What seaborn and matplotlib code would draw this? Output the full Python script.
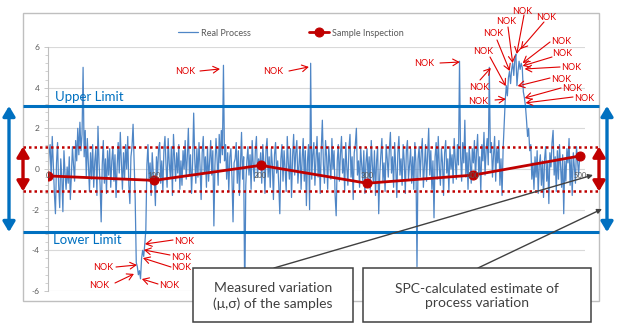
import numpy as np
import pandas as pd
import seaborn as sns
import matplotlib
matplotlib.use("Agg")
import matplotlib.pyplot as plt
from matplotlib.patches import FancyArrowPatch, Rectangle
from matplotlib.transforms import blended_transform_factory
from matplotlib.ticker import MultipleLocator

# ---------------- data ----------------
real_process = [
    -0.3, 0.8, 1.2, -0.5, 1.6, 0.2, -1.2, -2.2, 0.3, 1.3,
    -0.8, -1.9, 0.5, -0.4, -2.1, 0.9, -0.2, -1.0, 0.1, -0.7,
    0.6, -1.5, -0.3, 1.1, 0.2, -0.6, 1.4, 0.4, 2.0, 0.7,
    2.3, 0.9, 1.7, 5.0, 0.6, 1.9, -0.4, 1.5, 0.2, -1.1,
    0.8, -0.5, 1.2, -0.9, 0.4, 1.0, -1.3, 2.1, 0.3, -0.8,
    -2.6, 0.2, 1.4, -0.7, 0.5, -1.2, 0.9, -0.3, 1.0, -0.9,
    0.4, 1.1, -0.6, 0.7, -1.4, 0.1, 1.3, -0.2, 1.8, 0.3,
    -1.0, 0.8, -0.5, 1.2, 0.0, 1.6, -0.8, -1.7, 0.6, 1.1,
    2.2, 0.4, -1.5, -4.6, -4.8, -5.2, -5.0, -5.4, -4.4, -4.0,
    -4.3, -3.7, -3.0, 0.2, 1.2, -0.6, 0.3, -1.3, 0.8, -0.2,
    -0.5, -1.8, 0.6, -0.3, 1.0, 1.3, -0.7, 0.4, -1.1, 0.9,
    1.6, 0.2, -0.9, 1.5, 0.3, -0.4, 1.1, -1.3, 1.7, 0.5,
    -0.6, 0.8, -0.2, 1.2, -1.0, 0.4, -0.8, 0.9, 0.0, 1.4,
    -0.5, 0.6, 2.0, -0.3, 0.7, -1.2, 0.3, 2.75, 0.5, -0.7,
    1.0, -0.4, 1.3, 0.1, -1.5, 0.8, 1.6, -0.2, 0.6, -0.9,
    1.1, -0.6, 0.4, 1.4, -0.3, 0.9, -2.8, 0.2, 1.5, 0.5,
    -0.8, 1.7, 0.3, 1.9, 0.7, 5.1, 0.4, 1.2, -0.5, 0.8,
    -1.1, 0.6, 1.0, -0.4, -2.6, 0.3, 0.5, 1.3, -0.7, 0.9,
    -1.3, 0.2, 1.8, -0.5, 0.6, -6.5, -0.8, 0.4, 1.1, -0.3,
    0.7, -1.0, 1.4, 0.2, -0.6, 0.9, 1.6, -0.4, 0.5, 0.1,
    0.8, -0.7, 1.2, 0.3, -1.2, 0.9, 1.5, -0.4, 0.6, -0.9,
    1.0, 0.2, -1.5, 0.7, 1.3, -0.2, 0.4, -0.8, -2.2, 0.5,
    1.2, -0.6, 0.9, 0.0, -1.1, 1.6, 0.3, -0.5, 1.0, -1.4,
    0.6, 1.7, -0.3, 0.8, 1.4, -0.7, 0.2, 1.1, -1.0, 0.5,
    1.5, -0.6, 0.9, -1.8, 0.4, 1.2, -2.0, 5.2, -0.5, 0.7,
    1.3, -0.8, 0.5, 1.6, -0.4, 0.8, -1.2, 1.0, 2.4, 0.2,
    -0.7, 1.4, 0.6, -1.0, 1.1, 0.3, -0.5, 1.5, 0.0, 0.9,
    -1.3, -2.3, 0.4, 1.2, -0.6, 0.7, 1.6, -0.2, 0.5, -1.1,
    1.3, 0.1, -0.8, 1.0, 1.7, -0.4, 0.6, -1.5, 0.8, 1.2,
    2.0, -0.3, 0.4, -0.9, 1.1, 0.2, -0.6, 0.9, -1.2, 0.3,
    1.0, -0.5, 0.6, -1.0, 1.4, 0.2, -0.7, 0.9, -1.3, 0.4,
    1.1, -2.2, -0.3, 0.7, 1.5, -0.6, 0.3, -1.1, 1.2, 0.5,
    -0.4, 1.0, 1.8, -0.2, 0.6, -0.9, 1.3, 0.1, -1.4, 0.8,
    1.6, -0.3, 0.5, -0.8, 1.2, 0.4, -1.2, 0.9, 1.4, -0.5,
    0.2, 1.0, -0.7, 0.6, -1.0, 1.3, 0.3, -4.8, 0.5, 1.1,
    -0.4, 0.8, 1.5, -0.9, 0.2, 1.2, -0.6, 0.7, 2.0, -0.3,
    0.9, -1.0, 0.4, -2.4, 0.6, 1.3, -0.5, 1.6, 0.1, -0.8,
    1.0, 0.3, -1.3, 0.8, 1.4, -0.2, 0.5, -1.1, 1.1, 0.0,
    0.7, -0.7, 1.5, 0.4, -0.5, 1.2, 0.2, 5.3, 0.6, -0.6,
    1.3, 0.3, 2.4, -0.4, 0.8, -1.0, 1.1, 0.4, -0.7, 1.0,
    0.3, 1.4, -0.5, 0.8, 1.7, -0.2, 0.6, -1.1, 1.2, 0.4,
    1.8, -0.3, 0.9, 1.5, 0.2, 5.0, 0.8, 1.3, -0.4, 0.7,
    1.6, -0.6, 1.0, 0.3, 1.4, -0.8, 0.5, -1.3, 1.0, 2.2,
    3.4, 4.1, 3.6, 4.5, 4.8, 4.2, 4.9, 5.2, 4.6, 5.4,
    5.65, 4.1, 4.8, 5.3, 4.9, 5.2, 5.0, 3.8, 3.5, 3.1,
    2.4, 1.6, 2.0, 0.9, 1.2, -0.5, 0.3, -1.0, 0.6, -0.4,
    0.9, -1.2, 0.2, 0.7, -0.8, 0.4, -1.4, 0.5, 1.1, -0.6,
    0.3, -1.7, 0.8, 0.1, 1.3, 1.9, -0.3, 0.6, -1.1, 0.9,
    -0.5, 1.2, 0.2, -0.9, 0.7, -2.2, 0.4, -0.6, 1.0, 0.3,
    1.5, -0.8, 0.5, -1.3, 0.8, 0.1, -0.7, 1.1, 0.4, -0.3,
    0.6,
]
process_index = list(range(len(real_process)))

sample_x = [0, 100, 200, 300, 400, 500]
sample_y = [-0.34, -0.56, 0.18, -0.70, -0.30, 0.64]

x_ticks = [0, 100, 200, 300, 400, 500]
x_tick_labels = ["0", "100", "200", "300", "400", "500"]
y_ticks = [-6, -4, -2, 0, 2, 4, 6]
y_tick_labels = ["-6", "-4", "-2", "0", "2", "4", "6"]

upper_limit = 3.1
lower_limit = -3.1
sample_upper = 1.1
sample_lower = -1.1

legend_labels = ["Real Process", "Sample Inspection"]
limit_labels = ["Upper Limit", "Lower Limit"]
box_texts = ["Measured variation\n(\u03bc,\u03c3) of the samples",
             "SPC-calculated estimate of\nprocess variation"]

# NOK annotation targets (data coords) and label/arrow-start positions (pixels from top-left)
nok_targets = [(161.7, 4.92), (245.3, 5.02), (387.2, 5.26), (416.4, 4.97),
               (430.5, 3.44), (430.5, 4.08), (434.2, 4.82), (437.0, 5.21),
               (440.8, 5.66), (444.5, 5.90), (446.4, 5.21), (446.4, 5.07),
               (448.3, 4.92), (441.7, 4.08), (448.3, 3.49), (449.2, 3.25),
               (91.2, -3.69), (90.2, -3.98), (89.3, -4.38), (83.6, -4.72),
               (80.8, -5.16), (88.3, -5.41)]
nok_text_px = [(185, 72), (273, 72), (424, 63), (479, 88),
               (478, 102), (483, 51), (493, 34), (506, 21),
               (522, 11), (546, 17), (561, 41), (562, 54),
               (571, 67), (561, 79), (572, 89), (584, 98),
               (184, 241), (181, 257), (181, 268), (103, 268),
               (99, 286), (169, 286)]
nok_start_px = [(200, 71), (289, 71), (440, 63), (480, 80),
                (495, 100), (490, 57), (497, 40), (508, 27),
                (524, 15), (544, 22), (550, 42), (552, 57),
                (560, 67), (550, 78), (561, 88), (573, 97),
                (173, 240), (170, 255), (171, 267), (116, 267),
                (115, 283), (158, 284)]

# ---------------- style ----------------
W, H = 618, 336
sns.set_theme(style="white")
plt.rcParams["font.family"] = ["Lato", "DejaVu Sans"]

BLUE_LINE = "#4F86C6"
LIMIT_BLUE = "#0070C0"
DARK_RED = "#C00000"
NOK_RED = "#E00000"
GRAY_TXT = "#595959"
BOX_EDGE = "#404040"

fig = plt.figure(figsize=(W / 100, H / 100), dpi=100)
ax = fig.add_axes([48 / W, 1 - 291 / H, 537 / W, 244 / H])


def fp(x, y):
    """pixel (from top-left) -> figure fraction"""
    return (x / W, 1 - y / H)


# outer chart border
fig.add_artist(Rectangle(fp(23, 301), (599 - 23) / W, (301 - 13) / H,
                         transform=fig.transFigure, fill=False,
                         edgecolor="#BFBFBF", lw=1.0, zorder=0))

# gridlines
for yv in y_ticks:
    ax.axhline(yv, color="#D9D9D9", lw=0.8, zorder=0.5)

df_proc = pd.DataFrame({"x": process_index, "y": real_process})
df_samp = pd.DataFrame({"x": sample_x, "y": sample_y})

sns.lineplot(data=df_proc, x="x", y="y", ax=ax, color=BLUE_LINE, lw=0.9,
             label=legend_labels[0], zorder=2)
sns.lineplot(data=df_samp, x="x", y="y", ax=ax, color=DARK_RED, lw=2.0,
             marker="o", markersize=6.5, markeredgecolor=DARK_RED,
             label=legend_labels[1], zorder=3)

ax.set_xlim(0, 505)
ax.set_ylim(-6, 6)
ax.set_xlabel("")
ax.set_ylabel("")
ax.set_xticks(x_ticks)
ax.set_xticklabels(x_tick_labels)
ax.set_yticks(y_ticks)
ax.set_yticklabels(y_tick_labels)
ax.yaxis.set_minor_locator(MultipleLocator(0.4))
for s in ["top", "right"]:
    ax.spines[s].set_visible(False)
ax.spines["bottom"].set_position(("data", 0))
ax.spines["bottom"].set_color("none")
ax.spines["left"].set_color("#BFBFBF")
ax.spines["left"].set_linewidth(0.8)
ax.tick_params(axis="x", length=0, pad=2, labelsize=5.5, labelcolor=GRAY_TXT)
ax.tick_params(axis="y", which="major", direction="out", length=3, width=0.6,
               color="#BFBFBF", pad=3, labelsize=6, labelcolor=GRAY_TXT, left=True)
ax.tick_params(axis="y", which="minor", direction="out", length=2, width=0.5,
               color="#BFBFBF", left=True)
ax.xaxis.set_zorder(5)
ax.patch.set_alpha(0)

leg = ax.legend(loc="center", bbox_to_anchor=fp(291, 33), bbox_transform=fig.transFigure,
                ncol=2, frameon=False, fontsize=6.5, handlelength=2.2,
                columnspacing=6.5, labelcolor=GRAY_TXT, handletextpad=0.3)

# limit lines spanning the chart width
bt = blended_transform_factory(fig.transFigure, ax.transData)
x0f, x1f = 23 / W, 599 / W
for yv in (upper_limit, lower_limit):
    ax.plot([x0f, x1f], [yv, yv], transform=bt, color=LIMIT_BLUE, lw=2.2,
            clip_on=False, zorder=4, solid_capstyle="butt")
for yv in (sample_upper, sample_lower):
    ax.plot([x0f, x1f], [yv, yv], transform=bt, color=DARK_RED, lw=1.8,
            ls=(0, (1, 1.2)), clip_on=False, zorder=4)

fig.text(*fp(55, 97), limit_labels[0], color=LIMIT_BLUE, fontsize=9.5,
         ha="left", va="center")
fig.text(*fp(53, 240), limit_labels[1], color=LIMIT_BLUE, fontsize=9.5,
         ha="left", va="center")


# double-headed variation arrows
def dbl_arrow(x, yv_top, yv_bot, color):
    a = FancyArrowPatch((x / W, yv_top), (x / W, yv_bot), transform=bt,
                        arrowstyle="<|-|>,head_length=0.5,head_width=0.3",
                        mutation_scale=12, lw=2.4, color=color,
                        shrinkA=0, shrinkB=0, clip_on=False, zorder=6)
    ax.add_artist(a)


dbl_arrow(9, upper_limit, lower_limit, LIMIT_BLUE)
dbl_arrow(607, upper_limit, lower_limit, LIMIT_BLUE)
dbl_arrow(23, sample_upper, sample_lower, DARK_RED)
dbl_arrow(599, sample_upper, sample_lower, DARK_RED)

# NOK annotations
for (tx, ty), (sx, sy), tgt in zip(nok_text_px, nok_start_px, nok_targets):
    fig.text(*fp(tx, ty), "NOK", color=NOK_RED, fontsize=6.5, ha="center", va="center")
    ax.annotate("", xy=tgt, xycoords="data", xytext=fp(sx, sy),
                textcoords="figure fraction",
                arrowprops=dict(arrowstyle="->,head_length=0.35,head_width=0.2",
                                color=NOK_RED, lw=0.8, shrinkA=0, shrinkB=0),
                annotation_clip=False, zorder=7)

# connector lines from the boxes
for (sx, sy), (ex, ey) in [((274, 268), (593, 175)), ((478, 268), (602, 209))]:
    fig.add_artist(FancyArrowPatch(fp(sx, sy), fp(ex, ey), transform=fig.transFigure,
                                   arrowstyle="-|>", mutation_scale=7, lw=1.0,
                                   color=BOX_EDGE, shrinkA=0, shrinkB=0, zorder=8))

# boxes
for (bx0, by0, bx1, by1), txt in zip([(193, 268, 353, 322), (363, 268, 591, 322)], box_texts):
    fig.add_artist(Rectangle(fp(bx0, by1), (bx1 - bx0) / W, (by1 - by0) / H,
                             transform=fig.transFigure, facecolor="white",
                             edgecolor=BOX_EDGE, lw=1.1, zorder=9))
    fig.text(*fp((bx0 + bx1) / 2, (by0 + by1) / 2 + 1), txt, color=BOX_EDGE,
             fontsize=10, ha="center", va="center", linespacing=1.25, zorder=10)

fig.savefig("out.png", dpi=100)
